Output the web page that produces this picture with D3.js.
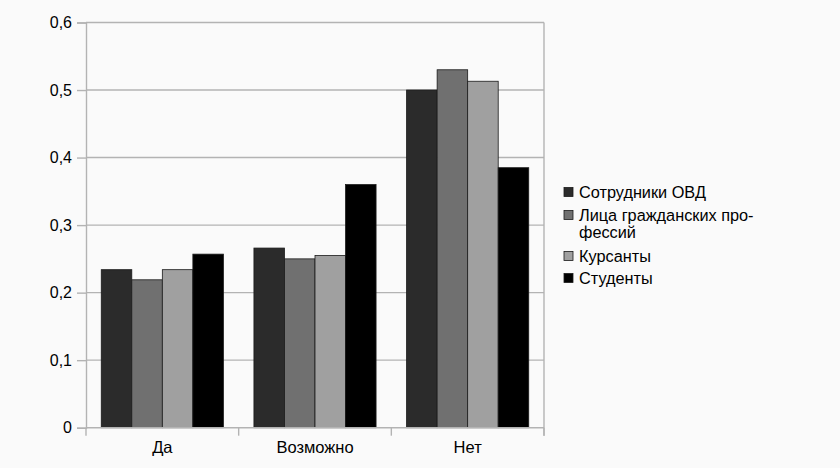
<!DOCTYPE html>
<html><head><meta charset="utf-8">
<script src="https://cdn.jsdelivr.net/npm/d3@7"></script>
<style>
html,body{margin:0;padding:0;background:#fafafa;}
svg{display:block;}
text{font-family:"Liberation Sans",Arial,sans-serif;fill:#000;}
</style></head>
<body>
<svg id="chart" width="840" height="468"></svg>
<script>
const categories = ["Да", "Возможно", "Нет"];
const seriesNames = ["Сотрудники ОВД", "Лица гражданских про-|фессий", "Курсанты", "Студенты"];
const sOVD = [0.234, 0.266, 0.500];
const sCivil = [0.219, 0.250, 0.530];
const sCadets = [0.234, 0.255, 0.513];
const sStudents = [0.257, 0.360, 0.385];
const yTicks = [0, 0.1, 0.2, 0.3, 0.4, 0.5, 0.6];
const colors = ["#2b2b2b", "#707070", "#a0a0a0", "#000000"];

const series = [sOVD, sCivil, sCadets, sStudents];
const svg = d3.select("#chart");
svg.append("rect").attr("width",840).attr("height",468).attr("fill","#fafafa");

const mLeft = 86, mRight = 544, mTop = 22.5, mBottom = 427.7;
const x = d3.scaleBand().domain(categories).range([mLeft, mRight]).paddingInner(0).paddingOuter(0);
const xs = d3.scaleBand().domain(d3.range(series.length)).range([0, x.bandwidth()]).paddingOuter(0.5).paddingInner(0);
const y = d3.scaleLinear().domain([0, 0.6]).range([mBottom, mTop]);

// gridlines
svg.append("g").selectAll("line").data(yTicks.filter(d=>d>0)).join("line")
  .attr("x1", mLeft).attr("x2", mRight).attr("y1", d=>y(d)).attr("y2", d=>y(d))
  .attr("stroke", "#b3b3b3").attr("stroke-width", 1.4);

// y axis
const yAxis = d3.axisLeft(y).tickValues(yTicks).tickSize(9).tickPadding(5)
  .tickFormat(d => d === 0 ? "0" : d3.format(".1f")(d).replace(".", ","));
const gy = svg.append("g").attr("transform", `translate(${mLeft},0)`).call(yAxis);
gy.select(".domain").attr("stroke", "#b3b3b3").attr("stroke-width", 1.4);
gy.selectAll(".tick line").attr("stroke", "#b3b3b3").attr("stroke-width", 1.4);
gy.selectAll(".tick text").attr("font-size", 16).attr("fill", "#000");

// right border
svg.append("line").attr("x1", mRight).attr("x2", mRight).attr("y1", mTop).attr("y2", mBottom + 8)
  .attr("stroke", "#b3b3b3").attr("stroke-width", 1.4);

// bars
const groups = svg.append("g").selectAll("g").data(categories).join("g")
  .attr("transform", d => `translate(${x(d)},0)`);
groups.selectAll("rect").data((c, ci) => series.map((s, si) => ({si, v: s[ci]}))).join("rect")
  .attr("x", d => xs(d.si)).attr("width", xs.bandwidth())
  .attr("y", d => y(d.v)).attr("height", d => y(0) - y(d.v))
  .attr("fill", d => colors[d.si]).attr("stroke", "#1a1a1a").attr("stroke-width", 0.8);

// x axis
const xAxis = d3.axisBottom(x).tickSize(0).tickPadding(14);
const gx = svg.append("g").attr("transform", `translate(0,${mBottom})`).call(xAxis);
gx.select(".domain").remove();
gx.selectAll(".tick text").attr("font-size", 16.5).attr("fill", "#000");
svg.append("line").attr("x1", mLeft).attr("x2", mRight).attr("y1", mBottom).attr("y2", mBottom)
  .attr("stroke", "#b3b3b3").attr("stroke-width", 1.4);
const bounds = categories.map(c => x(c)).concat([mRight]);
svg.append("g").selectAll("line").data(bounds).join("line")
  .attr("x1", d=>d).attr("x2", d=>d).attr("y1", mBottom).attr("y2", mBottom + 8)
  .attr("stroke", "#b3b3b3").attr("stroke-width", 1.4);

// legend
const legendY = [192, 215, 256, 278];
const lg = svg.append("g");
seriesNames.forEach((name, i) => {
  lg.append("rect").attr("x", 564).attr("y", legendY[i] - 4.5).attr("width", 9).attr("height", 9)
    .attr("fill", colors[i]).attr("stroke", "#1a1a1a").attr("stroke-width", 0.8);
  const t = lg.append("text").attr("x", 579).attr("y", legendY[i]).attr("font-size", 16.3);
  name.split("|").forEach((line, li) => {
    t.append("tspan").attr("x", 579).attr("dy", li === 0 ? "0.35em" : "17px").text(line);
  });
});
</script>
</body></html>
